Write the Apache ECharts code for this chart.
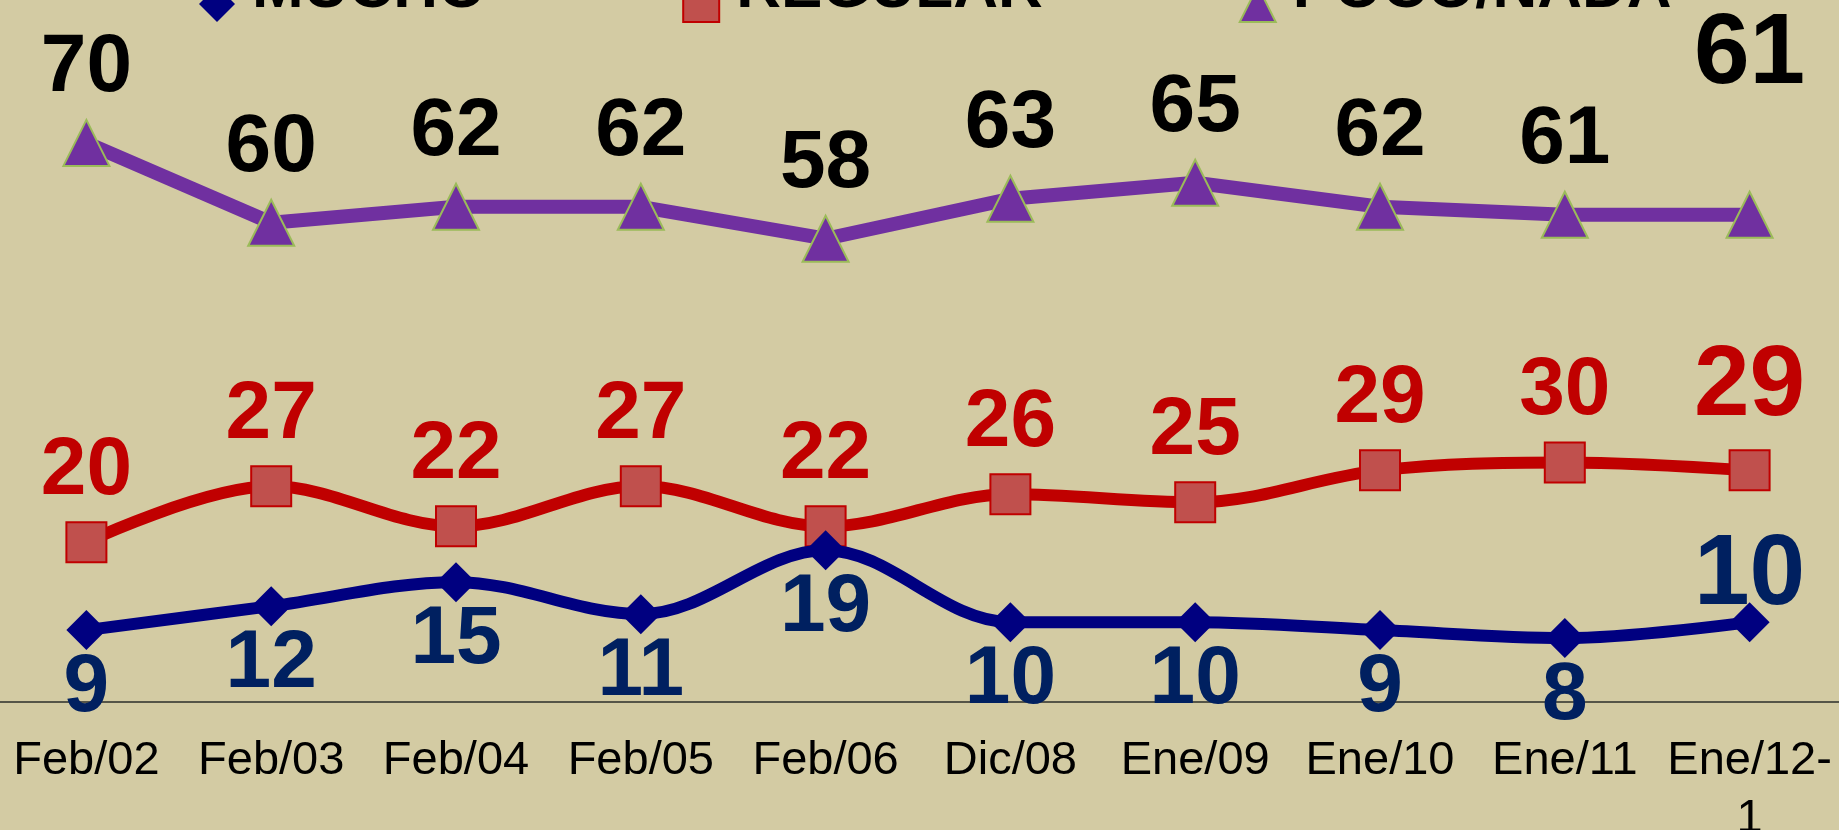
<!DOCTYPE html>
<html>
<head>
<meta charset="utf-8">
<title>Mucho / Regular / Poco-Nada</title>
<script src="https://cdn.jsdelivr.net/npm/echarts@6/dist/echarts.min.js"></script>
<style>
  html, body { margin: 0; padding: 0; background: #d3cba3; }
  #main { width: 1839px; height: 830px; }
</style>
</head>
<body>
<div id="main"></div>
<script>
// categorías y series
const categories = ['Feb/02', 'Feb/03', 'Feb/04', 'Feb/05', 'Feb/06', 'Dic/08', 'Ene/09', 'Ene/10', 'Ene/11', 'Ene/12-\n1'];
const mucho = [9, 12, 15, 11, 19, 10, 10, 9, 8, 10];
const regular = [20, 27, 22, 27, 22, 26, 25, 29, 30, 29];
const pocoNada = [70, 60, 62, 62, 58, 63, 65, 62, 61, 61];

const FONT = '"Liberation Sans", Arial, sans-serif';

// el último punto lleva una etiqueta más grande
function withLastLabel(values, lastLabel) {
  return values.map((v, i) => (i === values.length - 1 ? { value: v, label: lastLabel } : v));
}

const myChart = echarts.init(document.getElementById('main'));
myChart.setOption({
  animation: false,
  backgroundColor: '#d3cba3',
  grid: {
    left: -6,
    right: -3,
    top: 63,
    bottom: 128,
    outerBoundsMode: 'none',
    containLabel: false,
  },
  legend: {
    top: -41,
    left: 199,
    padding: 0,
    itemWidth: 36,
    itemHeight: 36,
    itemGap: 196,
    formatter: '{t|{name}}',
    textStyle: {
      rich: {
        t: {
          fontFamily: FONT,
          fontSize: 62,
          fontWeight: 'bold',
          color: '#000',
          padding: [0, 0, 28, 12],
        },
      },
    },
    data: [
      { name: 'MUCHO', icon: 'diamond' },
      { name: 'REGULAR', icon: 'rect' },
      { name: 'POCO/NADA', icon: 'triangle' },
    ],
  },
  xAxis: {
    type: 'category',
    data: categories,
    boundaryGap: true,
    axisLine: {
      lineStyle: { color: '#555548', width: 2 },
    },
    axisTick: {
      length: 14,
      lineStyle: { color: '#555548', width: 1.5 },
    },
    axisLabel: {
      interval: 0,
      margin: 30,
      fontFamily: FONT,
      fontSize: 47,
      lineHeight: 58,
      color: '#000',
    },
  },
  yAxis: {
    type: 'value',
    min: 0,
    max: 80,
    show: false,
  },
  series: [
    {
      name: 'MUCHO',
      type: 'line',
      smooth: 0.35,
      data: withLastLabel(mucho, { position: 'top', distance: -24, fontSize: 100 }),
      symbol: 'diamond',
      symbolSize: [40, 40],
      lineStyle: { color: '#000080', width: 12 },
      itemStyle: { color: '#000080' },
      label: {
        show: true,
        position: 'bottom',
        distance: -3,
        fontFamily: FONT,
        fontSize: 82,
        fontWeight: 'bold',
        color: '#002060',
      },
      z: 3,
    },
    {
      name: 'REGULAR',
      type: 'line',
      smooth: 0.35,
      data: withLastLabel(regular, { distance: 12, fontSize: 100 }),
      symbol: 'rect',
      symbolSize: 40,
      lineStyle: { color: '#c00000', width: 12 },
      itemStyle: { color: '#c0504d', borderColor: '#c00000', borderWidth: 2 },
      label: {
        show: true,
        position: 'top',
        distance: 9,
        fontFamily: FONT,
        fontSize: 82,
        fontWeight: 'bold',
        color: '#c00000',
      },
      z: 2,
    },
    {
      name: 'POCO/NADA',
      type: 'line',
      data: withLastLabel(pocoNada, { distance: 85, fontSize: 100 }),
      symbol: 'triangle',
      symbolSize: 46,
      lineStyle: { color: '#7030a0', width: 14 },
      itemStyle: { color: '#7030a0', borderColor: '#9bbb59', borderWidth: 2 },
      label: {
        show: true,
        position: 'top',
        distance: 9,
        fontFamily: FONT,
        fontSize: 82,
        fontWeight: 'bold',
        color: '#000',
      },
      z: 2,
    },
  ],
});
</script>
</body>
</html>
